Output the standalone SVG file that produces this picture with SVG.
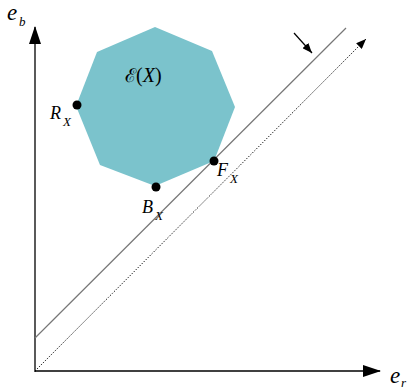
<svg xmlns="http://www.w3.org/2000/svg" width="410" height="390" viewBox="0 0 410 390">
<defs>
<style>
.lbl{font-family:"Liberation Serif","Times New Roman",serif;font-style:italic;fill:#000}
.m{font-size:18px}
.e{font-size:23px}
.s{font-size:13px}
.up{font-style:normal}
.ax{stroke:#000;stroke-width:1.3;fill:none}
</style>
<marker id="big" viewBox="0 0 18 12" refX="17" refY="6" markerWidth="18" markerHeight="12" markerUnits="userSpaceOnUse" orient="auto"><path d="M0,0L18,6L0,12Z" fill="#000"/></marker>
<marker id="small" viewBox="0 0 10 8" refX="10" refY="4" markerWidth="10" markerHeight="8" markerUnits="userSpaceOnUse" orient="auto"><path d="M0,0L10,4L0,8Z" fill="#000"/></marker>
</defs>
<g id="region">
<polygon points="155,27 212,51 235,107 214,161 155,186 100,165 76,106 97,52" fill="#7bc3cc"/>
<text class="lbl" x="125" y="82" style="font-size:20px"><tspan class="up" style="font-family:'DejaVu Serif',serif;font-size:19px">ℰ</tspan><tspan class="up">(</tspan>X<tspan class="up">)</tspan></text>
</g>
<g id="connectors">
<line class="ax" x1="35" y1="372" x2="35" y2="27" marker-end="url(#big)"/>
<line class="ax" x1="35" y1="371" x2="380" y2="371" marker-end="url(#big)"/>
<line x1="35" y1="338" x2="346" y2="28" stroke="#777" stroke-width="1.2"/>
<line x1="35" y1="371" x2="366" y2="39" stroke="#000" stroke-width="1" stroke-dasharray="1.2,1.6" marker-end="url(#small)"/>
<line x1="294" y1="33" x2="312" y2="53" stroke="#000" stroke-width="1.2" marker-end="url(#small)"/>
</g>
<g id="R">
<circle cx="77" cy="105" r="4.5" fill="#000"/>
<text class="lbl m" x="50" y="119">R</text><text class="lbl s" x="63" y="126">X</text>
</g>
<g id="B">
<circle cx="156" cy="187" r="4.5" fill="#000"/>
<text class="lbl m" x="142" y="213">B</text><text class="lbl s" x="155" y="220">X</text>
</g>
<g id="F">
<circle cx="214" cy="161" r="4.5" fill="#000"/>
<text class="lbl m" x="217" y="176">F</text><text class="lbl s" x="230" y="183">X</text>
</g>
<g id="labels">
<text class="lbl e" x="7" y="20">e</text><text class="lbl s" x="19" y="26">b</text>
<text class="lbl e" x="390" y="383">e</text><text class="lbl s" x="401" y="387">r</text>
</g>
</svg>
